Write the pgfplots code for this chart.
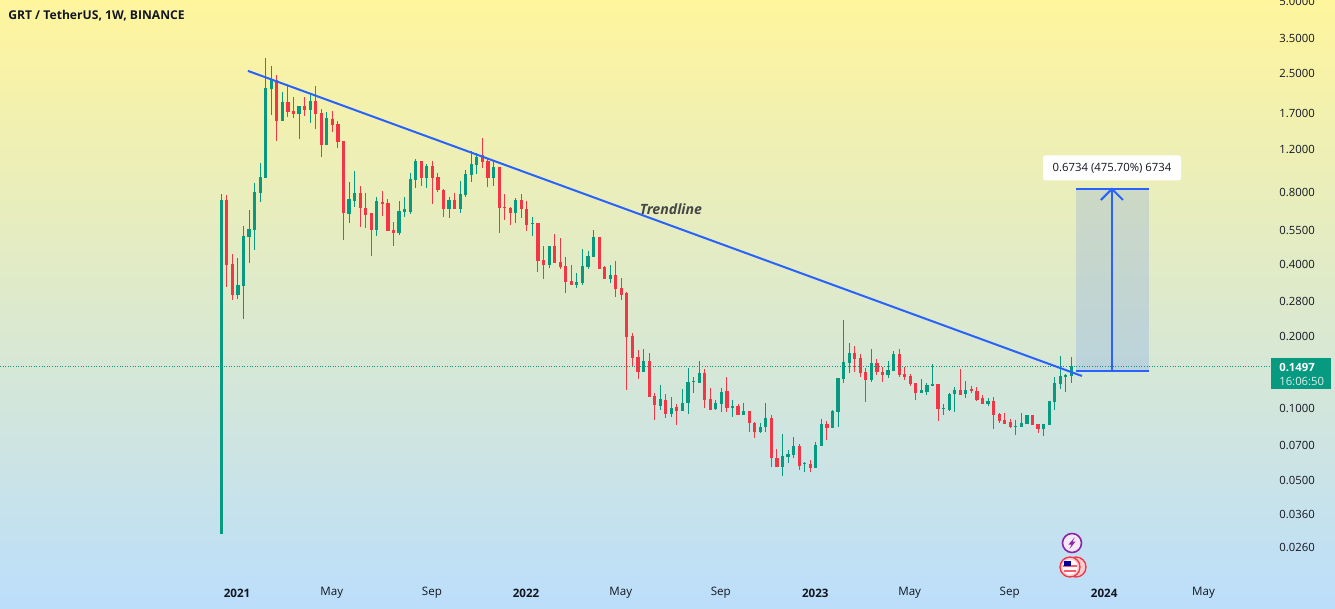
\documentclass[border=0pt]{standalone}
\usepackage{fontspec}
\setmainfont{Open Sans}
\usepackage{pgfplots}
\usepackage{pgfplotstable}
\pgfplotsset{compat=1.18}

\definecolor{up}{HTML}{089981}
\definecolor{down}{HTML}{F23645}
\definecolor{tool}{HTML}{2962FF}
\definecolor{ink}{HTML}{131722}
\definecolor{bgtop}{RGB}{255,245,157}
\definecolor{bgbottom}{RGB}{187,222,251}
\definecolor{bolt}{HTML}{8E24AA}

% weekly candles, i = week number from the first bar
\pgfplotstableread{
i o h l c
0 .0295 .7776 .0295 .7339
3 .2940 .4198 .2829 .3237
4 .3206 .5714 .2334 .5189
5 .5139 .6665 .4001 .5551
6 .5498 .8644 .4534 .7927
7 .7851 1.048 .7199 .9158
8 .9070 2.881 .9070 2.158
9 2.137 2.668 1.664 2.353
11 1.570 2.077 1.570 1.886
14 1.680 1.815 1.320 1.815
16 1.746 2.018 1.540 1.904
19 1.246 1.713 1.246 1.616
23 .6413 .8728 .5881 .7410
24 .7269 .9700 .6860 .7851
28 .5498 .7554 .5189 .7269
32 .5341 .7269 .5240 .6601
33 .6538 .7554 .6231 .6729
34 .6538 .9515 .6413 .8983
35 .8897 1.089 .8238 1.068
37 .9070 1.038 .8238 1.018
41 .6729 .7554 .6171 .7339
43 .6729 .8812 .6475 .7776
44 .7702 .9794 .7554 .9424
45 .9334 1.176 .8728 1.038
46 1.028 1.154 .9424 1.110
49 .9070 1.068 .8398 1.008
53 .6475 .7482 .5881 .7339
56 .5825 .6231 .5189 .5881
59 .3925 .4712 .3813 .4712
64 .3237 .3634 .3145 .3332
65 .3300 .4578 .3237 .3887
66 .3850 .4491 .3777 .4279
67 .4239 .5498 .4239 .5139
70 .3430 .3925 .3300 .3565
76 .1401 .1748 .1401 .1557
79 .1010 .1236 .0972 .1080
81 .0935 .1101 .0908 .0990
83 .0962 .1189 .0962 .1039
84 .1039 .1456 .0935 .1272
85 .1272 .1335 .1144 .1284
86 .1260 .1557 .1260 .1387
89 .0981 .1070 .0972 .1039
90 .1029 .1200 .0953 .1155
92 .0990 .1070 .0908 .1010
94 .0926 .1039 .0926 .0962
97 .0786 .0857 .0779 .0825
98 .0825 .1039 .0786 .0899
101 .0561 .0771 .0515 .0624
102 .0618 .0661 .0583 .0636
103 .0630 .0749 .0612 .0687
105 .0578 .0589 .0535 .0583
107 .0556 .0714 .0556 .0694
108 .0687 .0891 .0687 .0849
110 .0817 .0972 .0817 .0962
111 .0953 .1322 .0825 .1322
112 .1309 .2311 .1260 .1542
113 .1527 .1852 .1387 .1682
117 .1297 .1748 .1272 .1527
120 .1361 .1557 .1322 .1428
121 .1414 .1715 .1414 .1666
126 .1144 .1309 .1144 .1178
127 .1155 .1260 .1122 .1236
128 .1224 .1513 .1224 .1248
130 .0985 .1029 .0926 .0990
131 .0972 .1144 .0962 .1133
132 .1133 .1212 .0953 .1178
134 .1133 .1284 .1090 .1178
138 .1029 .1090 .1010 .1059
143 .0825 .0882 .0764 .0833
144 .0825 .0944 .0825 .0857
145 .0849 .0926 .0849 .0926
148 .0809 .0849 .0756 .0849
149 .0841 .1059 .0841 .1059
150 .1049 .1335 .0972 .1260
151 .1248 .1634 .1189 .1348
152 .1335 .1374 .1155 .1361
153 .1348 .1618 .1260 .1484
}\upcandles

\pgfplotstableread{
i o h l c
1 .7339 .7702 .3175 .3925
2 .3963 .4363 .2802 .2940
10 2.331 2.446 1.295 1.570
12 1.886 2.200 1.632 1.713
13 1.729 1.979 1.616 1.680
15 1.815 1.979 1.648 1.746
17 1.904 2.200 1.454 1.680
18 1.696 1.763 1.110 1.246
20 1.601 1.729 1.412 1.511
21 1.526 1.570 1.211 1.283
22 1.295 1.295 .4993 .6475
25 .7851 .8398 .5659 .6794
26 .6794 .7851 .5605 .6351
27 .6475 .6475 .4279 .5498
29 .7199 .8004 .6290 .7062
30 .7130 .7410 .5445 .5445
31 .5498 .5938 .4712 .5341
36 1.068 1.068 .8398 .9070
38 1.018 1.068 .7062 .9070
39 .9158 .9515 .7927 .8081
40 .8081 .8159 .6231 .6729
42 .7339 .7851 .6729 .6729
47 1.132 1.333 .9985 1.058
48 1.068 1.089 .8318 .9070
50 1.008 1.008 .5341 .6794
51 .6860 .7776 .6053 .6794
52 .6794 .6860 .5769 .6475
54 .7339 .7776 .6171 .6729
55 .6729 .7269 .5445 .5769
57 .5881 .5881 .3669 .4079
58 .4118 .4712 .3430 .3925
60 .4712 .5290 .4001 .4001
61 .4040 .5090 .3777 .3850
62 .3887 .4239 .2997 .3332
63 .3364 .3925 .3237 .3237
68 .5139 .5139 .3777 .3777
69 .3850 .3887 .3430 .3430
71 .3565 .4079 .2884 .3114
72 .3145 .3463 .2802 .2940
73 .2997 .3026 .1178 .1962
74 .1981 .2040 .1470 .1603
75 .1618 .1731 .1309 .1401
77 .1557 .1682 .1101 .1101
78 .1112 .1144 .0882 .1019
80 .1070 .1133 .0899 .0935
82 .1000 .1029 .0841 .0962
87 .1387 .1442 .0990 .1070
88 .1080 .1200 .0972 .0972
91 .1166 .1335 .0953 .0990
93 .1010 .1029 .0926 .0926
95 .0962 .0962 .0786 .0857
96 .0857 .0865 .0742 .0786
99 .0899 .0926 .0561 .0612
100 .0612 .0667 .0561 .0561
104 .0687 .0700 .0545 .0567
106 .0578 .0600 .0535 .0556
109 .0849 .0874 .0728 .0817
114 .1682 .1799 .1401 .1587
115 .1603 .1666 .1335 .1387
116 .1401 .1456 .1049 .1297
118 .1527 .1587 .1361 .1401
119 .1401 .1470 .1272 .1361
122 .1666 .1748 .1335 .1361
123 .1374 .1470 .1297 .1335
124 .1348 .1374 .1224 .1248
125 .1260 .1260 .1070 .1144
129 .1248 .1248 .0874 .0981
133 .1178 .1442 .1122 .1122
135 .1189 .1224 .1144 .1166
136 .1166 .1212 .1059 .1070
137 .1090 .1122 .1029 .1029
139 .1059 .1101 .0809 .0926
140 .0935 .0944 .0857 .0874
141 .0882 .0944 .0849 .0849
142 .0865 .0891 .0817 .0825
146 .0926 .0926 .0841 .0841
147 .0849 .0849 .0779 .0809
}\downcandles

\begin{document}
\begin{tikzpicture}[x=1pt,y=1pt]
\path[use as bounding box] (0,0) rectangle (1001.25pt,456pt);
\begin{axis}[
    at={(0,0)}, anchor=south west,
    scale only axis,
    width=1001.25pt, height=456pt,
    xmin=-39.83, xmax=200.45,
    ymode=log, ymin=0.01444, ymax=5.03,
    axis background/.style={top color=bgtop, bottom color=bgbottom},
    axis line style={draw=none},
    tick style={draw=none},
    minor tick num=0,
    yticklabel pos=right,
    ytick={0.026,0.036,0.05,0.07,0.1,0.2,0.28,0.4,0.55,0.8,1.2,1.7,2.5,3.5,5},
    yticklabels={0.0260,0.0360,0.0500,0.0700,0.1000,0.2000,0.2800,0.4000,0.5500,0.8000,1.2000,1.7000,2.5000,3.5000,5.0000},
    yticklabel style={anchor=east, xshift=-15pt, yshift=-0.75pt, inner sep=0pt, font=\fontsize{8.5}{10}\selectfont, text=ink},
    xtick={2.83,19.9,37.9,54.85,71.9,89.9,106.9,123.9,141.9,158.9,176.8},
    xticklabels={\textbf{2021},May,Sep,\textbf{2022},May,Sep,\textbf{2023},May,Sep,\textbf{2024},May},
    xticklabel style={anchor=center, yshift=11.25pt, inner sep=0pt, font=\fontsize{8.7}{10}\selectfont, text=ink},
    error bars/error mark=none,
  ]
  % wicks
  \addplot[draw=none, error bars/.cd, y dir=plus, y explicit, error bar style={up, line width=0.75pt}]
    table[x=i, y=l, y error plus expr=\thisrow{h}-\thisrow{l}] {\upcandles};
  \addplot[draw=none, error bars/.cd, y dir=plus, y explicit, error bar style={down, line width=0.75pt}]
    table[x=i, y=l, y error plus expr=\thisrow{h}-\thisrow{l}] {\downcandles};
  % bodies
  \addplot[draw=none, error bars/.cd, y dir=plus, y explicit, error bar style={up, line width=2.4pt}]
    table[x=i, y=o, y error plus expr=\thisrow{c}-\thisrow{o}] {\upcandles};
  \addplot[draw=none, error bars/.cd, y dir=plus, y explicit, error bar style={down, line width=2.4pt}]
    table[x=i, y=c, y error plus expr=\thisrow{o}-\thisrow{c}] {\downcandles};

  % last price line
  \addplot[up, line width=0.75pt, dash pattern=on 0.75pt off 1.2pt] coordinates {(-39.83,0.1480) (189.1,0.1480)};

  % measure box
  \addplot[draw=none, fill=tool, fill opacity=0.15] coordinates {(153.85,0.1414) (167,0.1414) (167,0.8159) (153.85,0.8159)} -- cycle;
  \addplot[tool, line width=1.5pt] coordinates {(153.85,0.1414) (167,0.1414)};
  \addplot[tool, line width=1.5pt] coordinates {(153.85,0.8159) (167,0.8159)};
  \addplot[tool, line width=1.5pt] coordinates {(160.3,0.1414) (160.3,0.8159)};
  \addplot[tool, line width=1.5pt] coordinates {(158.32,0.7339) (160.3,0.8159) (162.28,0.7339)};

  % trendline
  \addplot[tool, line width=1.5pt] coordinates {(4.8,2.542) (154.9,0.1348)};
\end{axis}

% annotations, in picture pixels
\begin{scope}[x=0.75pt,y=-0.75pt,yshift=456pt]
  \node[anchor=west, inner sep=0pt, text=ink, font=\fontsize{9.1}{10}\selectfont\bfseries] at (8,16) {GRT / TetherUS, 1W, BINANCE};
  \node[inner sep=0pt, text=black!72, font=\fontsize{10.6}{12}\selectfont\bfseries\itshape] at (671,209) {Trendline};
  \node[fill=white, rounded corners=2pt, minimum width=103.5pt, minimum height=18.75pt, inner sep=0pt, text=ink, font=\fontsize{8.5}{10}\selectfont] at (1112,168) {0.6734 (475.70\%) 6734};
  \fill[up] (1271,358) rectangle (1331,389);
  \node[inner sep=0pt, text=white, font=\fontsize{8.5}{10}\selectfont\bfseries, anchor=west] at (1279,367) {0.1497};
  \node[inner sep=0pt, text=white!85!up, font=\fontsize{8.5}{10}\selectfont, anchor=west] at (1279,381) {16:06:50};
  % event icons
  \draw[bolt, fill=bolt!10, line width=1.2pt] (1072,543) circle (9.5);
  \fill[bolt] (1075,537) -- (1068.5,544.5) -- (1071.5,544.5) -- (1069.5,549) -- (1075.5,541.5) -- (1072.5,541.5) -- cycle;
  \draw[down, fill=down!25, line width=1pt] (1076,567) circle (10);
  \draw[down, fill=down!25, line width=1pt] (1070,567) circle (10);
  \fill[white] (1070,567) circle (7.5);
  \fill[down!80] (1063,565) rectangle (1077,567);
  \fill[down!80] (1064,570) rectangle (1076,572);
  \fill[blue!60!black] (1064,561) rectangle (1071,566);
\end{scope}
\end{tikzpicture}
\end{document}
